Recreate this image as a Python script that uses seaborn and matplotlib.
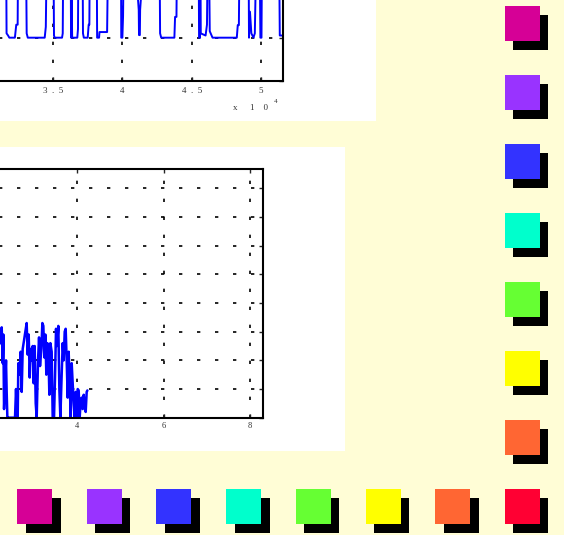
import numpy as np
import pandas as pd
import matplotlib
matplotlib.use("Agg")
import matplotlib.pyplot as plt
from matplotlib.patches import Rectangle
import seaborn as sns

# ---------------- data ----------------
# upper panel: pulse signal (x in units of 1e4)
top_x = [3.050, 3.162, 3.165, 3.176, 3.185, 3.225, 3.235, 3.245, 3.248,
         3.305, 3.310, 3.318, 3.440, 3.448, 3.455,
         3.503, 3.507, 3.512, 3.565, 3.570, 3.574,
         3.627, 3.630, 3.634, 3.638, 3.675, 3.680, 3.683,
         3.713, 3.716, 3.722, 3.750, 3.757, 3.762, 3.765,
         3.815, 3.818, 3.832, 3.835, 3.890, 3.897,
         3.990, 3.992, 4.000, 4.005, 4.010,
         4.098, 4.106, 4.118, 4.120, 4.126, 4.128, 4.140, 4.145,
         4.268, 4.272, 4.280, 4.375, 4.380, 4.390, 4.394,
         4.550, 4.553, 4.560, 4.562, 4.565, 4.600, 4.610, 4.615, 4.625, 4.630,
         4.650, 4.825, 4.832, 4.840, 4.845,
         4.910, 4.913, 4.920, 4.930, 4.945, 4.955, 4.960, 4.964,
         4.990, 4.995, 5.003, 5.007,
         5.130, 5.135, 5.160]
top_y = [3.00, 3.00, 1.10, 1.05, 1.00, 1.00, 1.30, 1.30, 3.00,
         3.00, 1.10, 1.00, 1.00, 1.25, 3.00,
         3.00, 1.05, 1.00, 1.00, 1.10, 3.00,
         3.00, 1.00, 2.00, 1.00, 1.00, 1.20, 3.00,
         3.00, 1.10, 1.00, 1.00, 1.30, 1.30, 3.00,
         3.00, 1.00, 1.00, 1.13, 1.13, 3.00,
         3.00, 1.00, 1.00, 1.50, 3.00,
         3.00, 2.20, 1.64, 1.06, 1.06, 1.64, 2.20, 3.00,
         3.00, 1.10, 1.00, 1.00, 1.48, 1.48, 3.00,
         3.00, 1.00, 1.00, 2.00, 1.10, 1.05, 1.30, 2.80, 2.80, 1.15,
         1.00, 1.00, 1.29, 1.29, 3.00,
         3.00, 1.00, 1.60, 1.10, 1.00, 1.10, 2.00, 3.00,
         3.00, 1.00, 1.00, 3.00,
         3.00, 1.05, 1.05]
top_ticks = [3.5, 4.0, 4.5, 5.0]
top_tick_labels = ["3  .  5", "4", "4  .  5", "5"]

# lower panel: noisy signal
bot_x = [2.150, 2.211, 2.250, 2.273, 2.288, 2.304, 2.327, 2.350, 2.365, 2.381,
         2.404, 2.558, 2.581, 2.597, 2.620, 2.635, 2.659, 2.689, 2.713, 2.736,
         2.767, 2.797, 2.828, 2.851, 2.875, 2.898, 2.921, 2.944, 2.967, 2.990,
         3.013, 3.037, 3.060, 3.091, 3.114, 3.137, 3.168, 3.191, 3.214, 3.237,
         3.260, 3.283, 3.307, 3.330, 3.353, 3.376, 3.407, 3.430, 3.461, 3.484,
         3.507, 3.530, 3.561, 3.584, 3.608, 3.638, 3.662, 3.685, 3.708, 3.731,
         3.754, 3.777, 3.800, 3.824, 3.847, 3.870, 3.893, 3.916, 3.939, 3.963,
         3.986, 4.009, 4.032, 4.055, 4.078, 4.101, 4.125, 4.148, 4.171, 4.194,
         4.217, 4.233]
bot_y = [2.5, 2.6, 3.15, 1.9, 2.9, 0.3, 1.2, 2.0, 0.9, 0.0,
         0.0, 0.0, 1.0, 0.3, 0.0, 1.9, 1.5, 2.3, 0.9, 2.4,
         2.7, 3.0, 3.3, 2.2, 2.9, 1.4, 2.4, 2.0, 2.5, 1.2,
         2.5, 0.5, 0.0, 2.0, 2.8, 1.8, 2.4, 3.3, 3.2, 2.1,
         2.9, 1.5, 2.6, 2.3, 0.8, 2.6, 2.3, 0.0, 0.0, 1.4,
         3.1, 2.5, 3.2, 1.0, 0.0, 1.5, 2.6, 2.0, 3.0, 3.1,
         2.0, 0.7, 2.3, 1.2, 0.0, 1.9, 1.2, 0.5, 0.0, 0.9,
         0.0, 1.0, 0.95, 0.0, 0.6, 0.7, 0.3, 0.8, 0.4, 0.2,
         0.9, 0.95]
bot_ticks = [4, 6, 8]
bot_tick_labels = ["4", "6", "8"]

# coloured tiles
col_colors = ["#D60096", "#9933FF", "#3333FF", "#00FFCC", "#66FF33", "#FFFF00", "#FF6633"]
row_colors = ["#D60096", "#9933FF", "#3333FF", "#00FFCC", "#66FF33", "#FFFF00", "#FF6633", "#FF0033"]

# ---------------- layout ----------------
W, H = 564, 535
BG = "#FFFDD6"
sns.set_style("ticks")
plt.rcParams["font.family"] = ["Liberation Serif", "DejaVu Serif"]

fig = plt.figure(figsize=(W / 100, H / 100), dpi=100, facecolor=BG)


def px_axes(left, top, right, bottom, **kw):
    return fig.add_axes([left / W, 1 - bottom / H, (right - left) / W, (bottom - top) / H], **kw)


# background layer in pixel coordinates
ax_bg = px_axes(0, 0, W, H, zorder=0)
ax_bg.set_xlim(0, W)
ax_bg.set_ylim(H, 0)
ax_bg.axis("off")
ax_bg.add_patch(Rectangle((0, 0), 376, 121, facecolor="white", edgecolor="none", zorder=0))
ax_bg.add_patch(Rectangle((0, 147), 345, 304, facecolor="white", edgecolor="none", zorder=0))

# tiles: a grid of 8 columns x 8 rows, right column and bottom row used
col_step, row_step, side, shadow = 69.7, 69.0, 35, 8
x0, y0 = 17, 6
tiles = []
for j, c in enumerate(col_colors):
    tiles.append(dict(cx=x0 + 7 * col_step + side / 2, cy=y0 + j * row_step + side / 2, color=c))
for i, c in enumerate(row_colors):
    tiles.append(dict(cx=x0 + i * col_step + side / 2, cy=y0 + 7 * row_step + side / 2, color=c))
tiles = pd.DataFrame(tiles).drop_duplicates(subset=["cx", "cy"]).reset_index(drop=True)
tiles["sx"] = tiles["cx"] + shadow
tiles["sy"] = tiles["cy"] + shadow
msize = (side * 72 / 100) ** 2
sns.scatterplot(data=tiles, x="sx", y="sy", color="black", marker="s", s=msize,
                linewidth=0, ax=ax_bg, zorder=2)
sns.scatterplot(data=tiles, x="cx", y="cy", hue="color",
                palette={c: c for c in tiles["color"]}, marker="s", s=msize,
                linewidth=0, legend=False, ax=ax_bg, zorder=3)
ax_bg.set_xlim(0, W)
ax_bg.set_ylim(H, 0)

GRID = dict(color="black", linestyle=(0, (2, 8.8)), linewidth=1.2)
TXT = "#333333"


def style_axes(ax):
    ax.set_facecolor("white")
    for s in ax.spines.values():
        s.set_visible(True)
        s.set_linewidth(1.5)
        s.set_color("black")
    ax.tick_params(direction="in", length=3, width=1, top=True, right=True,
                   labelsize=6, labelcolor=TXT, pad=3)
    ax.grid(True, **GRID)
    ax.set_axisbelow(True)
    ax.set_xlabel("")
    ax.set_ylabel("")


# upper panel: xlim (0, 5.156), ylim (0, 2.2)
ax1 = px_axes(-432.4, -14.3, 282.7, 81, zorder=1)
sns.lineplot(x=top_x, y=top_y, ax=ax1, color="#0000FF", linewidth=1.4,
             estimator=None, sort=False)
ax1.set_xlim(0, 5.156)
ax1.set_ylim(0, 2.2)
ax1.set_xticks(top_ticks)
ax1.set_xticklabels(top_tick_labels)
ax1.set_yticks([0, 1, 2])
ax1.set_yticklabels([])
style_axes(ax1)
ax1.tick_params(axis="x", labelsize=6.5, pad=4)
ax_bg.text(235, 108, "x", fontsize=6.5, color=TXT, ha="center", va="center", zorder=5)
ax_bg.text(259, 108, "1    0", fontsize=6.5, color=TXT, ha="center", va="center", zorder=5)
ax_bg.text(276, 101.5, "4", fontsize=5, color=TXT, ha="center", va="center", zorder=5)

# lower panel: xlim (0, 8.305), ylim (0, 8.66)
ax2 = px_axes(-95.5, 169.3, 263.3, 417.7, zorder=1)
sns.lineplot(x=bot_x, y=bot_y, ax=ax2, color="#0000FF", linewidth=1.8,
             estimator=None, sort=False)
ax2.set_xlim(0, 8.305)
ax2.set_ylim(0, 8.66)
ax2.set_xticks(bot_ticks)
ax2.set_xticklabels(bot_tick_labels)
ax2.set_yticks(range(0, 9))
ax2.set_yticklabels([])
style_axes(ax2)

fig.savefig("out.png", dpi=100, facecolor=fig.get_facecolor())
